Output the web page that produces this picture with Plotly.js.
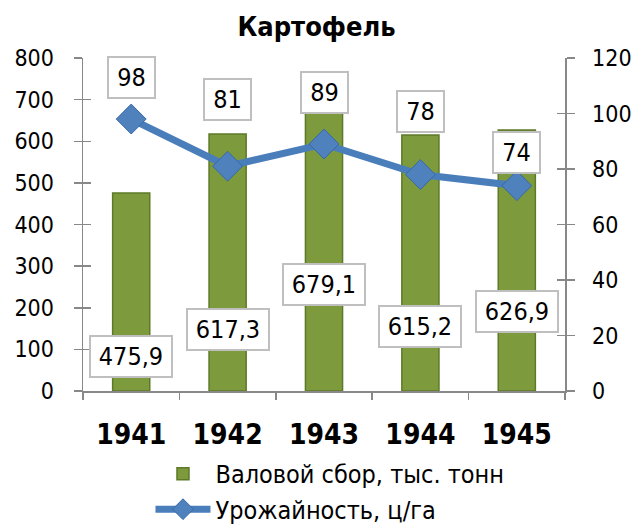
<!DOCTYPE html>
<html>
<head>
<meta charset="utf-8">
<script src="https://cdn.plot.ly/plotly-3.0.1.min.js"></script>
<style>html,body{margin:0;padding:0;background:#fff;}#chart{width:633px;height:527px;}</style>
</head>
<body>
<div id="chart"></div>
<script>
// Data
const years = ['1941', '1942', '1943', '1944', '1945'];
const harvest = [475.9, 617.3, 679.1, 615.2, 626.9];      // Валовой сбор, тыс. тонн
const yieldVals = [98, 81, 89, 78, 74];                    // Урожайность, ц/га
const harvestLabels = ['475,9', '617,3', '679,1', '615,2', '626,9'];
const yieldLabels = ['98', '81', '89', '78', '74'];

// Label placement (style, axis units)
const harvestLabelPos = [82, 147, 255, 156, 192];
const yieldLabelPos = [112.8, 104.9, 107.7, 100.9, 86.1];

const idx = years.map((_, i) => i);
const FONT = '"DejaVu Sans Condensed", "DejaVu Sans", sans-serif';

// label box width estimate (style): digit ~14.3px, comma ~7px at 25px font, plus side padding
function boxWidth(s) {
  let w = 0;
  for (const ch of s) w += (ch === ',' ? 7 : 14.3);
  return Math.round(w + 10);
}

const bars = {
  type: 'bar', x: idx, y: harvest, name: 'Валовой сбор, тыс. тонн', legendgroup: 'a',
  width: 0.385,
  marker: {color: '#7d9b3c', line: {color: '#5d7a28', width: 1.5}},
  hoverinfo: 'skip'
};
const line = {
  type: 'scatter', mode: 'lines+markers', x: idx, y: yieldVals, yaxis: 'y2',
  name: 'Урожайность, ц/га', legendgroup: 'b',
  line: {color: '#4a7ebb', width: 7},
  marker: {symbol: 'diamond', size: 23, color: '#4f81bd', line: {color: '#3868a8', width: 1}},
  hoverinfo: 'skip'
};
// invisible helpers so the crossing tick axes get drawn
const helperL = {type: 'scatter', x: [null], y: [null], yaxis: 'y3', showlegend: false, hoverinfo: 'skip'};
const helperR = {type: 'scatter', x: [null], y: [null], yaxis: 'y4', showlegend: false, hoverinfo: 'skip'};

const labelStyle = {
  showarrow: false, bgcolor: '#ffffff', bordercolor: '#bfbfbf', borderwidth: 2, borderpad: 3,
  height: 33, align: 'center', valign: 'middle',
  font: {family: FONT, size: 25, color: '#000'}
};
const annotations = [];
idx.forEach((xi, i) => {
  annotations.push(Object.assign({}, labelStyle, {
    x: xi, y: harvestLabelPos[i], xref: 'x', yref: 'y', text: harvestLabels[i],
    width: boxWidth(harvestLabels[i])
  }));
  annotations.push(Object.assign({}, labelStyle, {
    x: xi, y: yieldLabelPos[i], xref: 'x', yref: 'y2', text: yieldLabels[i],
    width: boxWidth(yieldLabels[i])
  }));
});

const axisLine = {showgrid: false, zeroline: false, linecolor: '#888', linewidth: 1.5,
                  tickcolor: '#888', tickwidth: 1.5, automargin: false};

const layout = {
  width: 633, height: 527,
  margin: {l: 83, r: 68, t: 58, b: 136, autoexpand: false},
  paper_bgcolor: '#fff', plot_bgcolor: '#fff',
  font: {family: FONT, size: 24, color: '#000'},
  title: {text: '<b>Картофель</b>', font: {family: FONT, size: 27, color: '#000'},
          x: 0.5, xanchor: 'center', y: 0.95, yref: 'container', yanchor: 'middle', automargin: false},
  showlegend: true,
  legend: {x: 0.14, y: -0.18, xanchor: 'left', yanchor: 'top', orientation: 'v', itemwidth: 55,
           traceorder: 'grouped', tracegroupgap: 0,
           font: {family: FONT, size: 25, color: '#000'}, bgcolor: 'rgba(0,0,0,0)'},
  xaxis: Object.assign({}, axisLine, {
    type: 'linear', range: [-0.5, 4.5], showline: true,
    tickmode: 'array', tickvals: idx, ticktext: years.map(y => '<b>' + y + '</b>'),
    ticks: '', ticklen: 0,
    minor: {ticks: 'outside', tick0: -0.5, dtick: 1, ticklen: 7, tickcolor: '#888', tickwidth: 1.5, showgrid: false},
    tickfont: {family: FONT, size: 28, color: '#000'},
    ticklabelstandoff: 18
  }),
  yaxis: Object.assign({}, axisLine, {
    range: [0, 800], dtick: 100, showline: true,
    ticks: 'outside', ticklen: 8,
    tickfont: {family: FONT, size: 23, color: '#000'}, ticklabelstandoff: 15
  }),
  yaxis2: Object.assign({}, axisLine, {
    range: [0, 120], dtick: 20, overlaying: 'y', side: 'right', showline: true, anchor: 'x',
    ticks: 'outside', ticklen: 8,
    tickfont: {family: FONT, size: 23, color: '#000'}, ticklabelstandoff: 13
  }),
  yaxis3: Object.assign({}, axisLine, {
    range: [0, 800], dtick: 100, overlaying: 'y', side: 'left', showline: false, anchor: 'x',
    ticks: 'inside', ticklen: 8, showticklabels: false
  }),
  yaxis4: Object.assign({}, axisLine, {
    range: [0, 120], dtick: 20, overlaying: 'y', side: 'right', showline: false, anchor: 'x',
    ticks: 'inside', ticklen: 8, showticklabels: false
  }),
  annotations: annotations
};

Plotly.newPlot('chart', [helperL, helperR, bars, line], layout, {displayModeBar: false, staticPlot: true});
</script>
</body>
</html>
